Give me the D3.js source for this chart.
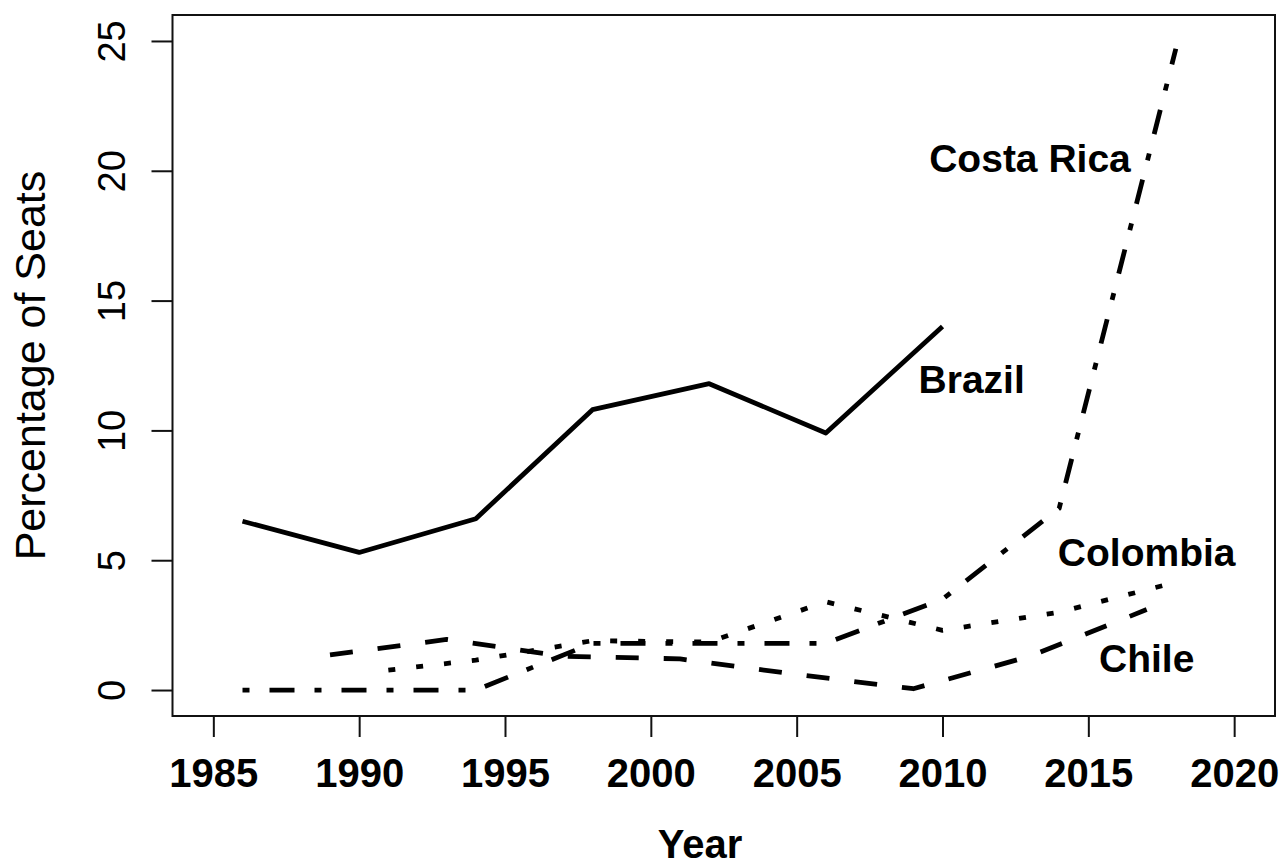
<!DOCTYPE html>
<html><head><meta charset="utf-8">
<script src="https://cdn.jsdelivr.net/npm/d3@7"></script>
<style>
body{margin:0;background:#fff}
text{font-family:"Liberation Sans",Arial,Helvetica,sans-serif}
</style>
</head><body>
<svg id="chart" width="1287" height="868"></svg>
<script>
// ---- data ----
const brazilYears = [1986, 1990, 1994, 1998, 2002, 2006, 2010];
const brazilValues = [6.5, 5.3, 6.6, 10.8, 11.8, 9.9, 14.0];
const costaRicaYears = [1986, 1990, 1994, 1998, 2002, 2006, 2010, 2014, 2018];
const costaRicaValues = [0, 0, 0, 1.8, 1.8, 1.8, 3.5, 7.0, 24.7];
const colombiaYears = [1991, 1994, 1998, 2002, 2006, 2010, 2014, 2018];
const colombiaValues = [0.77, 1.15, 1.9, 1.85, 3.4, 2.3, 3.0, 4.15];
const chileYears = [1989, 1993, 1997, 2001, 2005, 2009, 2013, 2017];
const chileValues = [1.35, 1.95, 1.3, 1.2, 0.6, 0.05, 1.3, 3.1];
const xTicks = [1985, 1990, 1995, 2000, 2005, 2010, 2015, 2020];
const yTicks = [0, 5, 10, 15, 20, 25];
const labelNames = ["Costa Rica", "Brazil", "Colombia", "Chile"];
const labelYears = [2013, 2011, 2017, 2017];
const labelValues = [20.5, 12.0, 5.3, 1.23];

const svg = d3.select("#chart");
const x = d3.scaleLinear().domain([1983.6, 2021.4]).range([172.5, 1275]);
const y = d3.scaleLinear().domain([-1, 26]).range([716, 15]);

// x axis
const gx = svg.append("g").attr("transform", `translate(0,${y(-1)})`)
  .call(d3.axisBottom(x).tickValues(xTicks).tickSize(21).tickPadding(22).tickFormat(d3.format("d")));
gx.select(".domain").remove();
gx.selectAll(".tick line").attr("stroke", "#111").attr("stroke-width", 2);
gx.selectAll(".tick text").attr("font-size", 40).attr("font-weight", "bold").attr("fill", "#000")
  .attr("font-family", "Liberation Sans, Arial, sans-serif");

// y axis
const gy = svg.append("g").attr("transform", `translate(${x(1983.6)},0)`)
  .call(d3.axisLeft(y).tickValues(yTicks).tickSize(21).tickFormat(d3.format("d")));
gy.select(".domain").remove();
gy.selectAll(".tick line").attr("stroke", "#111").attr("stroke-width", 2);
gy.selectAll(".tick text")
  .attr("x", 0).attr("y", -48).attr("dy", 0)
  .attr("transform", "rotate(-90)")
  .attr("text-anchor", "middle")
  .attr("font-size", 38).attr("fill", "#000")
  .attr("font-family", "Liberation Sans, Arial, sans-serif");

// box
svg.append("rect")
  .attr("x", x(1983.6)).attr("y", y(26))
  .attr("width", x(2021.4) - x(1983.6)).attr("height", y(-1) - y(26))
  .attr("fill", "none").attr("stroke", "#111").attr("stroke-width", 2);

// lines
const line = d3.line().x(d => x(d[0])).y(d => y(d[1]));
const series = [
  {years: brazilYears, values: brazilValues, dash: null},
  {years: costaRicaYears, values: costaRicaValues, dash: "7,20,25,20"},
  {years: colombiaYears, values: colombiaValues, dash: "7,21"},
  {years: chileYears, values: chileValues, dash: "23,25"}
];
series.forEach(s => {
  svg.append("path")
    .attr("d", line(d3.zip(s.years, s.values)))
    .attr("fill", "none").attr("stroke", "#000").attr("stroke-width", 4.8)
    .attr("stroke-linejoin", "round")
    .attr("stroke-dasharray", s.dash);
});

// labels
labelNames.forEach((n, i) => {
  svg.append("text")
    .attr("x", x(labelYears[i])).attr("y", y(labelValues[i]))
    .attr("dy", "0.36em").attr("text-anchor", "middle")
    .attr("font-size", 39).attr("font-weight", "bold").attr("fill", "#000")
    .text(n);
});

// axis titles
svg.append("text")
  .attr("x", 700).attr("y", 858)
  .attr("text-anchor", "middle").attr("font-size", 40).attr("font-weight", "bold")
  .text("Year");
svg.append("text")
  .attr("transform", `translate(45,${(y(-1) + y(26)) / 2}) rotate(-90)`)
  .attr("text-anchor", "middle").attr("font-size", 43)
  .text("Percentage of Seats");
</script>
</body></html>
